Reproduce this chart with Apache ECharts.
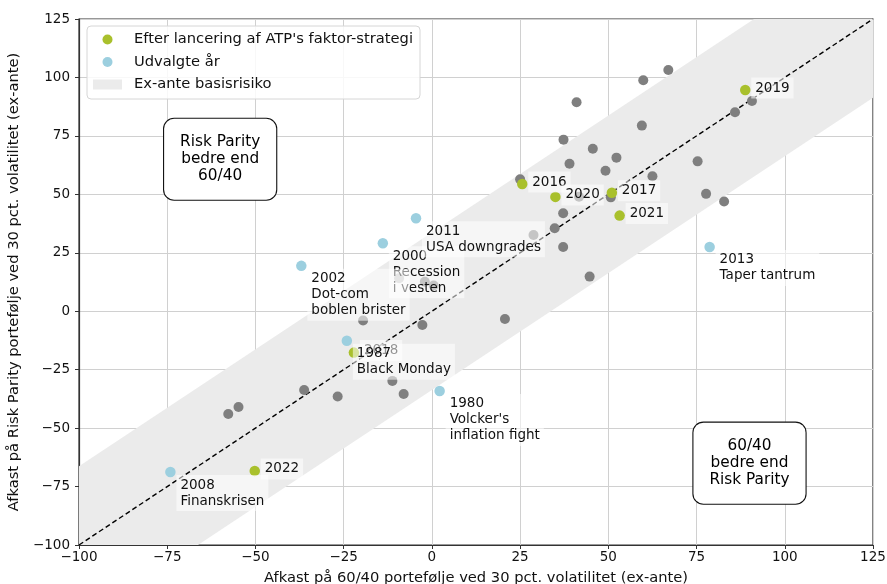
<!DOCTYPE html>
<html><head><meta charset="utf-8">
<script src="https://cdn.jsdelivr.net/npm/echarts@6/dist/echarts.min.js"></script>
<style>html,body{margin:0;padding:0;background:#fff}#c{width:887px;height:584px}</style>
</head><body><div id="c"></div>
<script>
// ---- data ----
const otherX = [67.0, 59.9, 41.0, 90.7, 85.9, 59.5, 37.3, 45.6, 39.0, 52.3, 49.2, 62.5, 75.3, 25.0, 41.7, 50.7, 77.7, 82.8, 37.2, 28.8, 34.8, 37.2, 44.7, 20.7, -9.3, -2.0, 0.5, -19.5, -2.7, -11.2, -8.0, -26.7, -36.2, -54.8, -57.7];
const otherY = [103.2, 98.8, 89.4, 89.9, 85.1, 79.4, 73.4, 69.5, 63.1, 65.7, 60.1, 57.7, 64.1, 56.4, 49.0, 48.7, 50.2, 46.9, 41.9, 32.6, 35.5, 27.5, 14.8, -3.3, 14.1, 12.6, 11.0, -4.0, -5.9, -29.8, -35.4, -36.5, -33.7, -41.0, -44.0];

const factorLabels = ['2016', '2017', '2018', '2019', '2020', '2021', '2022'];
const factorX = [25.6, 51.0, -22.1, 88.8, 35.0, 53.2, -50.2];
const factorY = [54.4, 50.7, -17.7, 94.6, 48.9, 40.9, -68.3];

const selectedLabels = ['1980\nVolcker\'s\ninflation fight', '1987\nBlack Monday', '2000\nRecession\ni vesten', '2002\nDot-com\nboblen brister', '2008\nFinanskrisen', '2011\nUSA downgrades', '2013\nTaper tantrum'];
const selectedX = [2.2, -24.1, -13.9, -37.0, -74.1, -4.5, 78.7];
const selectedY = [-34.1, -12.6, 29.1, 19.4, -68.8, 39.8, 27.5];

const annotTexts = ['Risk Parity\nbedre end\n60/40', '60/40\nbedre end\nRisk Parity'];
const annotX = [-60, 90];
const annotY = [65, -65];

const bandHalfWidth = 33.7;
const axisMin = -100, axisMax = 125, tickStep = 25;

const seriesNames = ["Efter lancering af ATP's faktor-strategi", 'Udvalgte år', 'Ex-ante basisrisiko'];
const xTitle = 'Afkast på 60/40 portefølje ved 30 pct. volatilitet (ex-ante)';
const yTitle = 'Afkast på Risk Parity portefølje ved 30 pct. volatilitet (ex-ante)';

// ---- build ----
const FONT = 'DejaVu Sans';
const zip = (xs, ys) => xs.map((x, i) => [x, ys[i]]);
const bandPoly = [
  [axisMin, axisMin + bandHalfWidth],
  [axisMax - bandHalfWidth, axisMax],
  [axisMax, axisMax],
  [axisMax, axisMax - bandHalfWidth],
  [axisMin + bandHalfWidth, axisMin],
  [axisMin, axisMin]
];

const chart = echarts.init(document.getElementById('c'), null, {renderer: 'canvas'});
const axisCommon = {
  type: 'value', min: axisMin, max: axisMax, interval: tickStep,
  axisLine: {show: true, onZero: false, lineStyle: {color: '#333', width: 1.2}},
  axisTick: {show: true, length: 4, lineStyle: {color: '#333'}},
  splitLine: {show: true, lineStyle: {color: '#d0d0d0', width: 1}},
  nameLocation: 'middle',
  nameTextStyle: {fontFamily: FONT, fontSize: 14.7, color: '#111'}
};
const tickFmt = v => v < 0 ? '\u2212' + Math.abs(v) : String(v);
chart.setOption({
  animation: false,
  backgroundColor: '#fff',
  grid: {left: 79, right: 14, top: 19, bottom: 39, containLabel: false, outerBoundsMode: 'none',
    show: true, borderColor: '#333', borderWidth: 1.2, backgroundColor: 'transparent'},
  xAxis: Object.assign({}, axisCommon, {
    name: xTitle, nameGap: 26,
    axisLabel: {fontFamily: FONT, fontSize: 13.5, color: '#111', margin: 5, formatter: tickFmt}
  }),
  yAxis: Object.assign({}, axisCommon, {
    name: yTitle, nameGap: 46,
    axisLabel: {fontFamily: FONT, fontSize: 13.5, color: '#111', margin: 9, formatter: tickFmt}
  }),
  legend: {
    orient: 'vertical', left: 87, top: 26,
    padding: [5, 7, 6, 6], itemGap: 5.5,
    itemWidth: 29, itemHeight: 10,
    backgroundColor: 'rgba(255,255,255,0.85)', borderColor: '#d6d6d6', borderWidth: 1, borderRadius: 4,
    selectedMode: false,
    textStyle: {fontFamily: FONT, fontSize: 14.7, color: '#111', lineHeight: 17, padding: [0, 0, 0, 7]},
    data: [
      {name: seriesNames[0], icon: 'circle'},
      {name: seriesNames[1], icon: 'circle'},
      {name: seriesNames[2], icon: 'rect'}
    ]
  },
  series: [
    {
      name: seriesNames[2], type: 'custom', z: 1, silent: true,
      itemStyle: {color: '#ebebeb'},
      data: [[0, 0]],
      renderItem: (params, api) => ({
        type: 'polygon',
        shape: {points: bandPoly.map(p => api.coord(p))},
        style: {fill: '#ebebeb'}
      })
    },
    {
      type: 'line', z: 2, silent: true, symbol: 'none',
      data: [[axisMin, axisMin], [axisMax, axisMax]],
      lineStyle: {color: '#000', width: 1.4, type: [5, 3]}
    },
    {
      type: 'scatter', z: 3, silent: true, symbolSize: 10,
      itemStyle: {color: '#7f7f7f', opacity: 1},
      data: zip(otherX, otherY)
    },
    {
      name: seriesNames[0], type: 'scatter', z: 4, silent: true, symbolSize: 10.5,
      itemStyle: {color: '#a9c02c', opacity: 1},
      data: zip(factorX, factorY).map((p, i) => ({value: p, label: {formatter: factorLabels[i]}})),
      label: {
        show: true, position: 'inside', align: 'left', verticalAlign: 'middle', offset: [6, -2],
        fontFamily: FONT, fontSize: 13.5, lineHeight: 16, color: '#111',
        backgroundColor: 'rgba(255,255,255,0.55)', padding: [3, 4, 2, 4]
      }
    },
    {
      name: seriesNames[1], type: 'scatter', z: 5, silent: true, symbolSize: 10.5,
      itemStyle: {color: '#9ccfdf', opacity: 1},
      data: zip(selectedX, selectedY).map((p, i) => ({value: p, label: {formatter: selectedLabels[i]}})),
      label: {
        show: true, position: 'inside', align: 'left', verticalAlign: 'top', offset: [6, 3],
        fontFamily: FONT, fontSize: 13.5, lineHeight: 16, color: '#111',
        backgroundColor: 'rgba(255,255,255,0.55)', padding: [2, 4, 2, 4]
      }
    },
    {
      type: 'scatter', z: 6, silent: true, symbolSize: 1,
      itemStyle: {color: '#ffffff', opacity: 1},
      data: zip(annotX, annotY).map((p, i) => ({value: p, label: {formatter: annotTexts[i]}})),
      label: {
        show: true, position: 'inside', align: 'center', verticalAlign: 'middle',
        fontFamily: FONT, fontSize: 15.3, lineHeight: 17, color: '#000', opacity: 1,
        backgroundColor: '#fff', borderColor: '#111', borderWidth: 1.1, borderRadius: 10,
        padding: [15, 16, 15, 16]
      }
    }
  ]
});
</script></body></html>
